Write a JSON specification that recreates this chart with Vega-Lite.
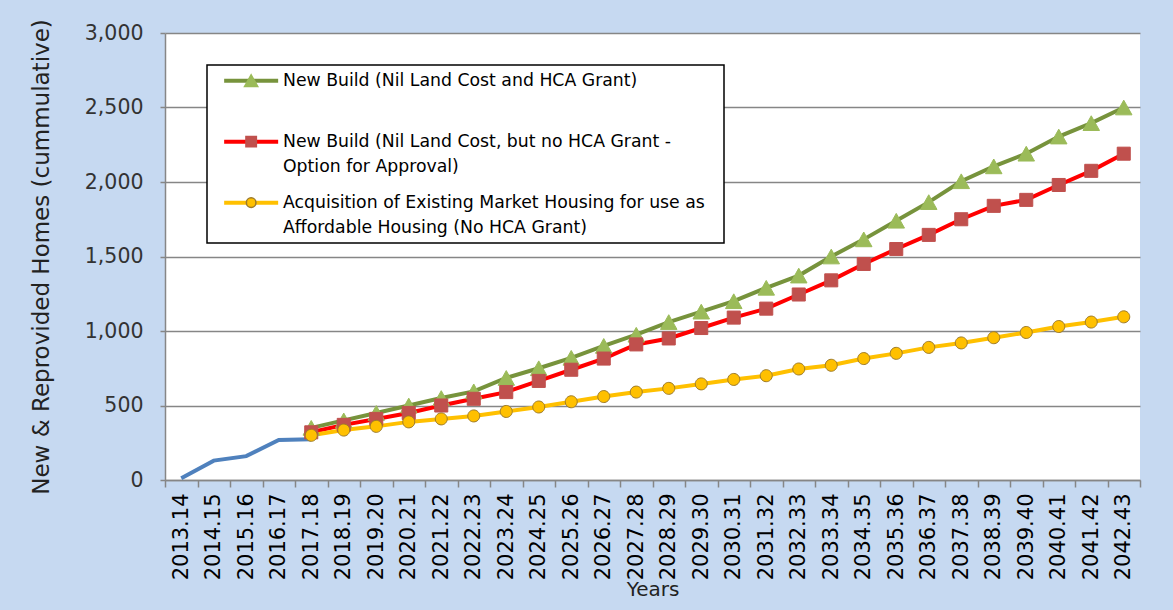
{
  "$schema": "https://vega.github.io/schema/vega-lite/v6.json",
  "width": 975,
  "height": 447,
  "autosize": "none",
  "padding": {"left": 165, "top": 33, "right": 33, "bottom": 130},
  "background": "#c6d9f1",
  "config": {"view": {"stroke": null, "fill": "white"}, "font": "DejaVu Sans", "style": {"guide-label": {"lineHeight": 25}}},
  "data": {"values": [
    {"year": "2013.14", "series": "Actual", "value": 12},
    {"year": "2014.15", "series": "Actual", "value": 130},
    {"year": "2015.16", "series": "Actual", "value": 160},
    {"year": "2016.17", "series": "Actual", "value": 268},
    {"year": "2017.18", "series": "Actual", "value": 273},
    {"year": "2018.19", "series": "Actual", "value": null},
    {"year": "2019.20", "series": "Actual", "value": null},
    {"year": "2020.21", "series": "Actual", "value": null},
    {"year": "2021.22", "series": "Actual", "value": null},
    {"year": "2022.23", "series": "Actual", "value": null},
    {"year": "2023.24", "series": "Actual", "value": null},
    {"year": "2024.25", "series": "Actual", "value": null},
    {"year": "2025.26", "series": "Actual", "value": null},
    {"year": "2026.27", "series": "Actual", "value": null},
    {"year": "2027.28", "series": "Actual", "value": null},
    {"year": "2028.29", "series": "Actual", "value": null},
    {"year": "2029.30", "series": "Actual", "value": null},
    {"year": "2030.31", "series": "Actual", "value": null},
    {"year": "2031.32", "series": "Actual", "value": null},
    {"year": "2032.33", "series": "Actual", "value": null},
    {"year": "2033.34", "series": "Actual", "value": null},
    {"year": "2034.35", "series": "Actual", "value": null},
    {"year": "2035.36", "series": "Actual", "value": null},
    {"year": "2036.37", "series": "Actual", "value": null},
    {"year": "2037.38", "series": "Actual", "value": null},
    {"year": "2038.39", "series": "Actual", "value": null},
    {"year": "2039.40", "series": "Actual", "value": null},
    {"year": "2040.41", "series": "Actual", "value": null},
    {"year": "2041.42", "series": "Actual", "value": null},
    {"year": "2042.43", "series": "Actual", "value": null},
    {"year": "2017.18", "series": "New Build (Nil Land Cost and HCA Grant)", "value": 350},
    {"year": "2018.19", "series": "New Build (Nil Land Cost and HCA Grant)", "value": 400},
    {"year": "2019.20", "series": "New Build (Nil Land Cost and HCA Grant)", "value": 450},
    {"year": "2020.21", "series": "New Build (Nil Land Cost and HCA Grant)", "value": 500},
    {"year": "2021.22", "series": "New Build (Nil Land Cost and HCA Grant)", "value": 550},
    {"year": "2022.23", "series": "New Build (Nil Land Cost and HCA Grant)", "value": 595},
    {"year": "2023.24", "series": "New Build (Nil Land Cost and HCA Grant)", "value": 685},
    {"year": "2024.25", "series": "New Build (Nil Land Cost and HCA Grant)", "value": 750},
    {"year": "2025.26", "series": "New Build (Nil Land Cost and HCA Grant)", "value": 820},
    {"year": "2026.27", "series": "New Build (Nil Land Cost and HCA Grant)", "value": 900},
    {"year": "2027.28", "series": "New Build (Nil Land Cost and HCA Grant)", "value": 975},
    {"year": "2028.29", "series": "New Build (Nil Land Cost and HCA Grant)", "value": 1060},
    {"year": "2029.30", "series": "New Build (Nil Land Cost and HCA Grant)", "value": 1130},
    {"year": "2030.31", "series": "New Build (Nil Land Cost and HCA Grant)", "value": 1200},
    {"year": "2031.32", "series": "New Build (Nil Land Cost and HCA Grant)", "value": 1290},
    {"year": "2032.33", "series": "New Build (Nil Land Cost and HCA Grant)", "value": 1372},
    {"year": "2033.34", "series": "New Build (Nil Land Cost and HCA Grant)", "value": 1500},
    {"year": "2034.35", "series": "New Build (Nil Land Cost and HCA Grant)", "value": 1615},
    {"year": "2035.36", "series": "New Build (Nil Land Cost and HCA Grant)", "value": 1740},
    {"year": "2036.37", "series": "New Build (Nil Land Cost and HCA Grant)", "value": 1865},
    {"year": "2037.38", "series": "New Build (Nil Land Cost and HCA Grant)", "value": 2005},
    {"year": "2038.39", "series": "New Build (Nil Land Cost and HCA Grant)", "value": 2105},
    {"year": "2039.40", "series": "New Build (Nil Land Cost and HCA Grant)", "value": 2190},
    {"year": "2040.41", "series": "New Build (Nil Land Cost and HCA Grant)", "value": 2305},
    {"year": "2041.42", "series": "New Build (Nil Land Cost and HCA Grant)", "value": 2395},
    {"year": "2042.43", "series": "New Build (Nil Land Cost and HCA Grant)", "value": 2500},
    {"year": "2017.18", "series": "New Build (Nil Land Cost, but no HCA Grant - Option for Approval)", "value": 320},
    {"year": "2018.19", "series": "New Build (Nil Land Cost, but no HCA Grant - Option for Approval)", "value": 370},
    {"year": "2019.20", "series": "New Build (Nil Land Cost, but no HCA Grant - Option for Approval)", "value": 410},
    {"year": "2020.21", "series": "New Build (Nil Land Cost, but no HCA Grant - Option for Approval)", "value": 450},
    {"year": "2021.22", "series": "New Build (Nil Land Cost, but no HCA Grant - Option for Approval)", "value": 500},
    {"year": "2022.23", "series": "New Build (Nil Land Cost, but no HCA Grant - Option for Approval)", "value": 545},
    {"year": "2023.24", "series": "New Build (Nil Land Cost, but no HCA Grant - Option for Approval)", "value": 590},
    {"year": "2024.25", "series": "New Build (Nil Land Cost, but no HCA Grant - Option for Approval)", "value": 665},
    {"year": "2025.26", "series": "New Build (Nil Land Cost, but no HCA Grant - Option for Approval)", "value": 740},
    {"year": "2026.27", "series": "New Build (Nil Land Cost, but no HCA Grant - Option for Approval)", "value": 815},
    {"year": "2027.28", "series": "New Build (Nil Land Cost, but no HCA Grant - Option for Approval)", "value": 910},
    {"year": "2028.29", "series": "New Build (Nil Land Cost, but no HCA Grant - Option for Approval)", "value": 950},
    {"year": "2029.30", "series": "New Build (Nil Land Cost, but no HCA Grant - Option for Approval)", "value": 1020},
    {"year": "2030.31", "series": "New Build (Nil Land Cost, but no HCA Grant - Option for Approval)", "value": 1090},
    {"year": "2031.32", "series": "New Build (Nil Land Cost, but no HCA Grant - Option for Approval)", "value": 1150},
    {"year": "2032.33", "series": "New Build (Nil Land Cost, but no HCA Grant - Option for Approval)", "value": 1245},
    {"year": "2033.34", "series": "New Build (Nil Land Cost, but no HCA Grant - Option for Approval)", "value": 1340},
    {"year": "2034.35", "series": "New Build (Nil Land Cost, but no HCA Grant - Option for Approval)", "value": 1450},
    {"year": "2035.36", "series": "New Build (Nil Land Cost, but no HCA Grant - Option for Approval)", "value": 1550},
    {"year": "2036.37", "series": "New Build (Nil Land Cost, but no HCA Grant - Option for Approval)", "value": 1645},
    {"year": "2037.38", "series": "New Build (Nil Land Cost, but no HCA Grant - Option for Approval)", "value": 1750},
    {"year": "2038.39", "series": "New Build (Nil Land Cost, but no HCA Grant - Option for Approval)", "value": 1840},
    {"year": "2039.40", "series": "New Build (Nil Land Cost, but no HCA Grant - Option for Approval)", "value": 1880},
    {"year": "2040.41", "series": "New Build (Nil Land Cost, but no HCA Grant - Option for Approval)", "value": 1980},
    {"year": "2041.42", "series": "New Build (Nil Land Cost, but no HCA Grant - Option for Approval)", "value": 2075},
    {"year": "2042.43", "series": "New Build (Nil Land Cost, but no HCA Grant - Option for Approval)", "value": 2190},
    {"year": "2017.18", "series": "Acquisition of Existing Market Housing for use as Affordable Housing (No HCA Grant)", "value": 300},
    {"year": "2018.19", "series": "Acquisition of Existing Market Housing for use as Affordable Housing (No HCA Grant)", "value": 335},
    {"year": "2019.20", "series": "Acquisition of Existing Market Housing for use as Affordable Housing (No HCA Grant)", "value": 360},
    {"year": "2020.21", "series": "Acquisition of Existing Market Housing for use as Affordable Housing (No HCA Grant)", "value": 390},
    {"year": "2021.22", "series": "Acquisition of Existing Market Housing for use as Affordable Housing (No HCA Grant)", "value": 410},
    {"year": "2022.23", "series": "Acquisition of Existing Market Housing for use as Affordable Housing (No HCA Grant)", "value": 430},
    {"year": "2023.24", "series": "Acquisition of Existing Market Housing for use as Affordable Housing (No HCA Grant)", "value": 460},
    {"year": "2024.25", "series": "Acquisition of Existing Market Housing for use as Affordable Housing (No HCA Grant)", "value": 490},
    {"year": "2025.26", "series": "Acquisition of Existing Market Housing for use as Affordable Housing (No HCA Grant)", "value": 525},
    {"year": "2026.27", "series": "Acquisition of Existing Market Housing for use as Affordable Housing (No HCA Grant)", "value": 560},
    {"year": "2027.28", "series": "Acquisition of Existing Market Housing for use as Affordable Housing (No HCA Grant)", "value": 590},
    {"year": "2028.29", "series": "Acquisition of Existing Market Housing for use as Affordable Housing (No HCA Grant)", "value": 615},
    {"year": "2029.30", "series": "Acquisition of Existing Market Housing for use as Affordable Housing (No HCA Grant)", "value": 645},
    {"year": "2030.31", "series": "Acquisition of Existing Market Housing for use as Affordable Housing (No HCA Grant)", "value": 675},
    {"year": "2031.32", "series": "Acquisition of Existing Market Housing for use as Affordable Housing (No HCA Grant)", "value": 700},
    {"year": "2032.33", "series": "Acquisition of Existing Market Housing for use as Affordable Housing (No HCA Grant)", "value": 745},
    {"year": "2033.34", "series": "Acquisition of Existing Market Housing for use as Affordable Housing (No HCA Grant)", "value": 770},
    {"year": "2034.35", "series": "Acquisition of Existing Market Housing for use as Affordable Housing (No HCA Grant)", "value": 815},
    {"year": "2035.36", "series": "Acquisition of Existing Market Housing for use as Affordable Housing (No HCA Grant)", "value": 850},
    {"year": "2036.37", "series": "Acquisition of Existing Market Housing for use as Affordable Housing (No HCA Grant)", "value": 890},
    {"year": "2037.38", "series": "Acquisition of Existing Market Housing for use as Affordable Housing (No HCA Grant)", "value": 920},
    {"year": "2038.39", "series": "Acquisition of Existing Market Housing for use as Affordable Housing (No HCA Grant)", "value": 955},
    {"year": "2039.40", "series": "Acquisition of Existing Market Housing for use as Affordable Housing (No HCA Grant)", "value": 990},
    {"year": "2040.41", "series": "Acquisition of Existing Market Housing for use as Affordable Housing (No HCA Grant)", "value": 1030},
    {"year": "2041.42", "series": "Acquisition of Existing Market Housing for use as Affordable Housing (No HCA Grant)", "value": 1060},
    {"year": "2042.43", "series": "Acquisition of Existing Market Housing for use as Affordable Housing (No HCA Grant)", "value": 1095}
  ]},
  "encoding": {
    "x": {
      "field": "year", "type": "ordinal",
      "scale": {"type": "band", "paddingInner": 0, "paddingOuter": 0},
      "axis": {
        "title": "Years", "labelAngle": -90, "labelAlign": "right", "labelBaseline": "middle",
        "labelFontSize": 21, "labelColor": "#000000", "labelPadding": 6, "labelOverlap": false,
        "tickBand": "extent", "tickSize": 7, "tickColor": "#868686", "tickWidth": 1.5,
        "domainColor": "#868686", "domainWidth": 1.5, "grid": false,
        "titleFontSize": 20, "titleFontWeight": "normal", "titleColor": "#222222", "titlePadding": 0
      }
    },
    "y": {
      "field": "value", "type": "quantitative",
      "scale": {"domain": [0, 3000], "nice": false},
      "axis": {
        "title": "New & Reprovided Homes (cummulative)",
        "values": [0, 500, 1000, 1500, 2000, 2500, 3000], "format": ",.0f",
        "labelFontSize": 20.5, "labelColor": "#333333", "labelPadding": 17,
        "tickSize": 5, "tickColor": "#868686", "tickWidth": 1.5,
        "domainColor": "#868686", "domainWidth": 1.5,
        "gridColor": "#868686", "gridWidth": 1.5,
        "titleFontSize": 23, "titleFontWeight": "normal", "titleColor": "#222222", "titlePadding": 31
      }
    }
  },
  "layer": [
    {
      "transform": [{"filter": "datum.value != null"}],
      "mark": {"type": "line", "strokeWidth": 4},
      "encoding": {
        "color": {
          "field": "series", "type": "nominal",
          "scale": {
            "domain": ["Actual", "New Build (Nil Land Cost and HCA Grant)", "New Build (Nil Land Cost, but no HCA Grant - Option for Approval)", "Acquisition of Existing Market Housing for use as Affordable Housing (No HCA Grant)"],
            "range": ["#4f81bd", "#77933c", "#ff0000", "#ffc000"]
          },
          "legend": {
            "orient": "none", "legendX": 42, "legendY": 32, "zindex": 1,
            "title": ".", "titleOrient": "right", "titlePadding": 5, "titleColor": "transparent", "titleFontSize": 17,
            "values": ["New Build (Nil Land Cost and HCA Grant)", "New Build (Nil Land Cost, but no HCA Grant - Option for Approval)", "Acquisition of Existing Market Housing for use as Affordable Housing (No HCA Grant)"],
            "padding": 7, "rowPadding": 18,
            "fillColor": "#ffffff", "strokeColor": "#000000",
            "symbolSize": 144, "symbolType": "M-4.5,0H4.5", "symbolStrokeWidth": 4, "symbolFillColor": "transparent",
            "symbolOffset": 28.5, "labelOffset": 23.2,
            "labelFontSize": 17.3, "labelFont": "DejaVu Sans", "labelColor": "#000000", "labelLimit": 1000,
            "labelExpr": "datum.value == 'New Build (Nil Land Cost and HCA Grant)' ? ['New Build (Nil Land Cost and HCA Grant)', ''] : datum.value == 'New Build (Nil Land Cost, but no HCA Grant - Option for Approval)' ? ['New Build (Nil Land Cost, but no HCA Grant -', 'Option for Approval)'] : ['Acquisition of Existing Market Housing for use as', 'Affordable Housing (No HCA Grant)']",
            "encode": {
              "legend": {"update": {"strokeWidth": {"value": 1.5}}}
            }
          }
        }
      }
    },
    {
      "transform": [{"filter": "datum.value != null && datum.series != 'Actual'"}],
      "mark": {"type": "point", "filled": true, "opacity": 1, "size": 225, "strokeWidth": 1},
      "encoding": {
        "shape": {
          "field": "series", "type": "nominal",
          "scale": {
            "domain": ["New Build (Nil Land Cost and HCA Grant)", "New Build (Nil Land Cost, but no HCA Grant - Option for Approval)", "Acquisition of Existing Market Housing for use as Affordable Housing (No HCA Grant)"],
            "range": ["M0,-0.98L1.1,0.98L-1.1,0.98Z", "M-0.87,-0.87H0.87V0.87H-0.87Z", "M0.8,0A0.8,0.8,0,1,1,-0.8,0A0.8,0.8,0,1,1,0.8,0Z"]
          },
          "legend": {
            "orient": "none", "legendX": 42, "legendY": 32, "zindex": 2,
            "title": ".", "titleOrient": "right", "titlePadding": 5, "titleColor": "transparent", "titleFontSize": 17,
            "padding": 7, "rowPadding": 18,
            "fillColor": "transparent", "strokeColor": "transparent",
            "symbolSize": 144, "symbolOffset": 28.5, "labelOffset": 23.2,
            "labelFontSize": 17.3, "labelFont": "DejaVu Sans", "labelColor": "transparent", "labelLimit": 1000,
            "labelExpr": "datum.value == 'New Build (Nil Land Cost and HCA Grant)' ? ['New Build (Nil Land Cost and HCA Grant)', ''] : datum.value == 'New Build (Nil Land Cost, but no HCA Grant - Option for Approval)' ? ['New Build (Nil Land Cost, but no HCA Grant -', 'Option for Approval)'] : ['Acquisition of Existing Market Housing for use as', 'Affordable Housing (No HCA Grant)']",
            "encode": {
              "symbols": {"update": {
                "shape": {"signal": "datum.value == 'New Build (Nil Land Cost and HCA Grant)' ? 'M0,-0.72L0.82,0.72L-0.82,0.72Z' : datum.value == 'New Build (Nil Land Cost, but no HCA Grant - Option for Approval)' ? 'M-0.72,-0.72H0.72V0.72H-0.72Z' : 'M0.72,0A0.72,0.72,0,1,1,-0.72,0A0.72,0.72,0,1,1,0.72,0Z'"},
                "fill": {"signal": "datum.value == 'New Build (Nil Land Cost and HCA Grant)' ? '#9bbb59' : datum.value == 'New Build (Nil Land Cost, but no HCA Grant - Option for Approval)' ? '#c0504d' : '#ffc000'"},
                "stroke": {"signal": "datum.value == 'New Build (Nil Land Cost and HCA Grant)' ? '#9bbb59' : datum.value == 'New Build (Nil Land Cost, but no HCA Grant - Option for Approval)' ? '#c0504d' : '#9c7a2b'"},
                "strokeWidth": {"value": 1},
                "opacity": {"value": 1}
              }}
            }
          }
        },
        "fill": {
          "field": "series", "type": "nominal", "legend": null,
          "scale": {
            "domain": ["New Build (Nil Land Cost and HCA Grant)", "New Build (Nil Land Cost, but no HCA Grant - Option for Approval)", "Acquisition of Existing Market Housing for use as Affordable Housing (No HCA Grant)"],
            "range": ["#9bbb59", "#c0504d", "#ffc000"]
          }
        },
        "stroke": {
          "field": "series", "type": "nominal", "legend": null,
          "scale": {
            "domain": ["New Build (Nil Land Cost and HCA Grant)", "New Build (Nil Land Cost, but no HCA Grant - Option for Approval)", "Acquisition of Existing Market Housing for use as Affordable Housing (No HCA Grant)"],
            "range": ["#9bbb59", "#c0504d", "#9c7a2b"]
          }
        }
      }
    }
  ]
}
